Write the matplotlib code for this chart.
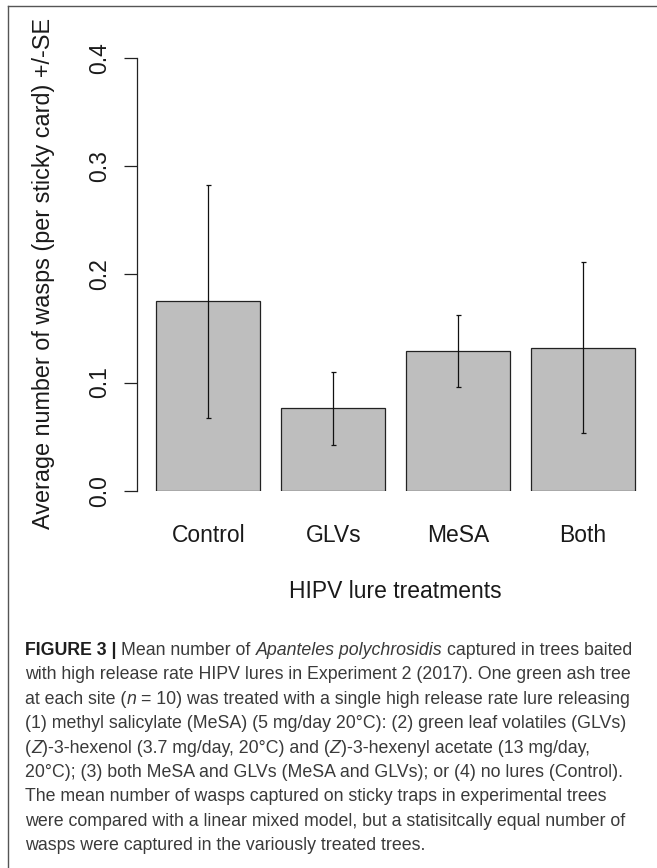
import matplotlib
matplotlib.use("Agg")
import matplotlib.pyplot as plt
from matplotlib.lines import Line2D
from matplotlib.font_manager import FontProperties, fontManager

# ---------------- data ----------------
categories = ["Control", "GLVs", "MeSA", "Both"]
mean_wasps = [0.175, 0.076, 0.129, 0.132]
se_wasps = [0.108, 0.034, 0.033, 0.079]
y_ticks = [0.0, 0.1, 0.2, 0.3, 0.4]
y_tick_labels = ["0.0", "0.1", "0.2", "0.3", "0.4"]
y_label = "Average number of wasps (per sticky card) +/-SE"
x_label = "HIPV lure treatments"

caption_lines = [
    [("FIGURE 3 |", "b"), (" Mean number of ", "n"), ("Apanteles polychrosidis", "i"),
     (" captured in trees baited", "n")],
    [("with high release rate HIPV lures in Experiment 2 (2017). One green ash tree", "n")],
    [("at each site (", "n"), ("n", "i"),
     (" = 10) was treated with a single high release rate lure releasing", "n")],
    [("(1) methyl salicylate (MeSA) (5 mg/day 20°C): (2) green leaf volatiles (GLVs)", "n")],
    [("(", "n"), ("Z", "i"), (")-3-hexenol (3.7 mg/day, 20°C) and (", "n"), ("Z", "i"),
     (")-3-hexenyl acetate (13 mg/day,", "n")],
    [("20°C); (3) both MeSA and GLVs (MeSA and GLVs); or (4) no lures (Control).", "n")],
    [("The mean number of wasps captured on sticky traps in experimental trees", "n")],
    [("were compared with a linear mixed model, but a statisitcally equal number of", "n")],
    [("wasps were captured in the variously treated trees.", "n")],
]

# ---------------- figure ----------------
W, H = 657, 868
DPI = 100
fig = plt.figure(figsize=(W / DPI, H / DPI), dpi=DPI)
fig.patch.set_facecolor("white")

MAIN = "Liberation Sans"
avail = {f.name for f in fontManager.ttflist}
if "Liberation Sans Narrow" in avail:
    CAP_FONT, CAP_SIZE = "Liberation Sans Narrow", 15.6
else:
    CAP_FONT, CAP_SIZE = "Liberation Sans", 12.8


def fx(px):
    return px / W


def fy(py):
    return 1 - py / H


# frame lines (top and left)
fig.add_artist(Line2D([fx(8), 1.0], [fy(6.4), fy(6.4)], transform=fig.transFigure,
                      color="#555555", lw=1.0))
fig.add_artist(Line2D([fx(8), fx(8)], [fy(6.4), 0.0], transform=fig.transFigure,
                      color="#555555", lw=1.0))

# axes: plot region
ax_left, ax_right = 137.3, 654.0
ax_top, ax_bottom = 58.0, 490.7
ax = fig.add_axes([fx(ax_left), fy(ax_bottom), fx(ax_right - ax_left),
                   (ax_bottom - ax_top) / H])
ax.set_facecolor("none")

n = len(categories)
positions = [0.7 + 1.2 * i for i in range(n)]
ax.bar(positions, mean_wasps, width=1.0, color="#BEBEBE", edgecolor="#222222",
       linewidth=0.9, zorder=2)
ax.errorbar(positions, mean_wasps, yerr=se_wasps, fmt="none", ecolor="#111111",
            elinewidth=0.9, capsize=1.8, capthick=0.9, zorder=3, clip_on=False)

ax.set_xlim(0.016, 4.984)
ax.set_ylim(0.0, 0.4)
for s in ["top", "right", "bottom"]:
    ax.spines[s].set_visible(False)
ax.spines["left"].set_bounds(0.0, 0.4)
ax.spines["left"].set_linewidth(0.9)
ax.spines["left"].set_color("#222222")

ax.set_yticks(y_ticks)
ax.set_yticklabels(y_tick_labels, fontsize=16.5, family=MAIN, color="#1a1a1a")
ax.tick_params(axis="y", length=9.6, width=0.9, color="#222222", pad=13.0)
for lab in ax.get_yticklabels():
    lab.set_rotation(90)
    lab.set_rotation_mode("anchor")
    lab.set_ha("center")
    lab.set_va("baseline")

ax.set_xticks(positions)
ax.set_xticklabels(categories, fontsize=16.5, family=MAIN, color="#1a1a1a")
ax.tick_params(axis="x", length=0, pad=36.7)
for lab in ax.get_xticklabels():
    lab.set_va("baseline")

# axis titles
fig.text(fx(50), fy(273.5), y_label, rotation=90, rotation_mode="anchor",
         ha="center", va="baseline", fontsize=16.8, family=MAIN, color="#1a1a1a")
fig.text(fx((ax_left + ax_right) / 2), fy(598.3), x_label, ha="center", va="baseline",
         fontsize=16.5, family=MAIN, color="#1a1a1a")

# ---------------- caption ----------------
renderer = fig.canvas.get_renderer()
styles = {
    "n": FontProperties(family=CAP_FONT, size=CAP_SIZE),
    "b": FontProperties(family=CAP_FONT, size=CAP_SIZE, weight="bold"),
    "i": FontProperties(family=CAP_FONT, size=CAP_SIZE, style="italic"),
}
colors = {"n": "#3a3a3a", "b": "#1e1e1e", "i": "#3a3a3a"}


def width_of(s, st):
    w, _, _ = renderer.get_text_width_height_descent(s, styles[st], ismath=False)
    return w


def advance(s, st):
    return width_of("|" + s + "|", st) - width_of("||", st)


cap_x0 = 25.0
cap_base0 = 655.0
line_step = 24.4
for li, runs in enumerate(caption_lines):
    x = cap_x0
    y = cap_base0 + li * line_step
    for text, st in runs:
        sp = advance(" ", st)
        lead = len(text) - len(text.lstrip(" "))
        core = text.strip(" ")
        trail = len(text.rstrip(" ")) - len(core) if core else 0
        trail = len(text) - len(text.rstrip(" ")) if core else 0
        x += lead * sp
        if core:
            fig.text(fx(x), fy(y), core, fontproperties=styles[st], color=colors[st],
                     ha="left", va="baseline")
            x += advance(core, st)
        x += trail * sp

fig.savefig("out.png", dpi=DPI, facecolor="white")
